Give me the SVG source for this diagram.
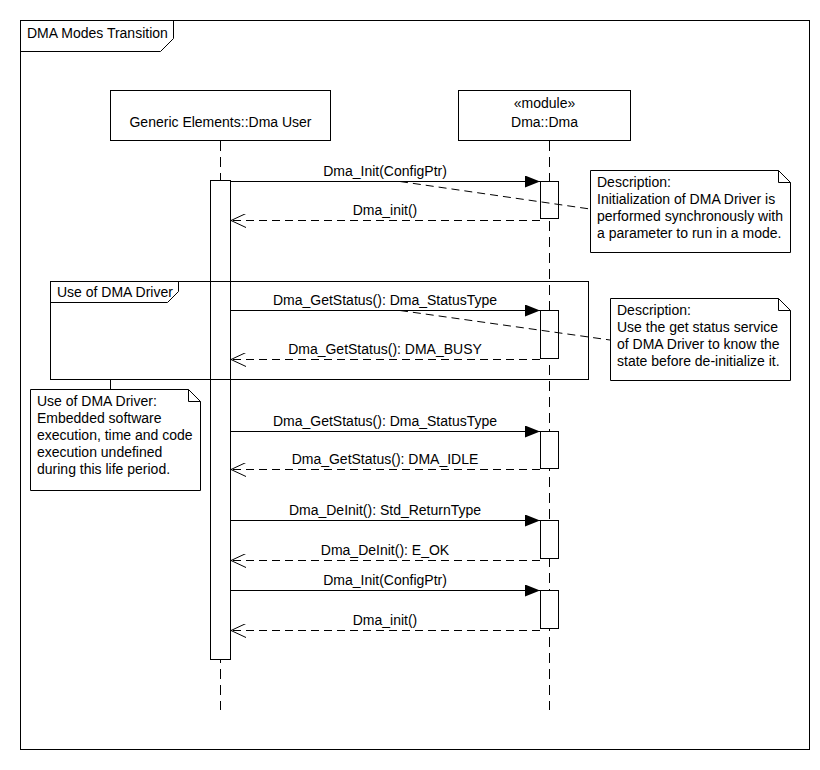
<svg xmlns="http://www.w3.org/2000/svg" width="820" height="770" viewBox="0 0 820 770">
<defs>
<style>
text{font-family:"Liberation Sans",Arial,sans-serif;font-size:14px;fill:#000}
.c{text-anchor:middle}
.box{fill:#fff;stroke:#000;stroke-width:1}
.ll{stroke:#000;stroke-width:1;stroke-dasharray:10,6;fill:none}
.msg{stroke:#000;stroke-width:1;fill:none}
.ret{stroke:#000;stroke-width:1;stroke-dasharray:8,5;fill:none}
.anc{stroke:#000;stroke-width:1;stroke-dasharray:8,5;fill:none}
</style>
<marker id="fill" markerWidth="16" markerHeight="12" refX="15" refY="6" orient="auto" markerUnits="userSpaceOnUse">
<path d="M0,0 L15,6 L0,12 Z" fill="#000"/>
</marker>
<marker id="open" markerWidth="16" markerHeight="14" refX="15" refY="7" orient="auto" markerUnits="userSpaceOnUse">
<path d="M0,0 L15,7 L0,14" fill="none" stroke="#000" stroke-width="1"/>
</marker>
</defs>
<rect width="820" height="770" fill="#fff"/>
<g id="frame">
<rect x="20.5" y="20.5" width="789" height="729" fill="none" stroke="#000"/>
<path d="M20.5,51.5 H160.5 L173.5,38.5 V20.5" fill="none" stroke="#000"/>
<text x="27" y="38">DMA Modes Transition</text>
</g>
<g id="user">
<rect class="box" x="110.5" y="90.5" width="220" height="50"/>
<text class="c" x="220.5" y="127">Generic Elements::Dma User</text>
<line class="ll" x1="220.5" y1="141" x2="220.5" y2="710"/>
<rect class="box" x="210.5" y="180.5" width="20" height="479"/>
</g>
<g id="dma">
<rect class="box" x="458.5" y="90.5" width="172" height="50"/>
<text class="c" x="544.5" y="108">«module»</text>
<text class="c" x="544.5" y="127">Dma::Dma</text>
<line class="ll" x1="549.5" y1="141" x2="549.5" y2="710"/>
<rect class="box" x="540.5" y="181.5" width="18" height="37"/>
<rect class="box" x="540.5" y="310.5" width="18" height="48"/>
<rect class="box" x="540.5" y="431.5" width="18" height="37"/>
<rect class="box" x="540.5" y="520.5" width="18" height="38"/>
<rect class="box" x="540.5" y="590.5" width="18" height="38"/>
</g>
<g id="fragment">
<rect x="50.5" y="281.5" width="538" height="98" fill="none" stroke="#000"/>
<path d="M50.5,302.5 H167.5 L178.5,291.5 V281.5" fill="none" stroke="#000"/>
<text x="57" y="297">Use of DMA Driver</text>
</g>
<g id="note1">
<path class="box" d="M590.5,170.5 H778.5 L790.5,182.5 V252.5 H590.5 Z"/>
<path d="M778.5,170.5 V182.5 H790.5" fill="none" stroke="#000"/>
<text x="597" y="187">Description:</text>
<text x="597" y="204">Initialization of DMA Driver is</text>
<text x="597" y="221">performed synchronously with</text>
<text x="597" y="238">a parameter to run in a mode.</text>
</g>
<g id="note2">
<path class="box" d="M610.5,298.5 H778.5 L790.5,310.5 V380.5 H610.5 Z"/>
<path d="M778.5,298.5 V310.5 H790.5" fill="none" stroke="#000"/>
<text x="617" y="315">Description:</text>
<text x="617" y="332">Use the get status service</text>
<text x="617" y="349">of DMA Driver to know the</text>
<text x="617" y="366">state before de-initialize it.</text>
</g>
<g id="note3">
<path class="box" d="M30.5,389.5 H188.5 L200.5,401.5 V490.5 H30.5 Z"/>
<path d="M188.5,389.5 V401.5 H200.5" fill="none" stroke="#000"/>
<text x="37" y="406">Use of DMA Driver:</text>
<text x="37" y="423">Embedded software</text>
<text x="37" y="440">execution, time and code</text>
<text x="37" y="457">execution undefined</text>
<text x="37" y="474">during this life period.</text>
</g>
<g id="connectors">
<line class="msg" x1="231" y1="181.5" x2="540" y2="181.5" marker-end="url(#fill)"/>
<text class="c" x="385" y="176">Dma_Init(ConfigPtr)</text>
<line class="ret" x1="540" y1="220.5" x2="231" y2="220.5" marker-end="url(#open)"/>
<text class="c" x="385" y="215">Dma_init()</text>
<line class="msg" x1="231" y1="310.5" x2="540" y2="310.5" marker-end="url(#fill)"/>
<text class="c" x="385" y="305">Dma_GetStatus(): Dma_StatusType</text>
<line class="ret" x1="540" y1="359.5" x2="231" y2="359.5" marker-end="url(#open)"/>
<text class="c" x="385" y="354">Dma_GetStatus(): DMA_BUSY</text>
<line class="msg" x1="231" y1="431.5" x2="540" y2="431.5" marker-end="url(#fill)"/>
<text class="c" x="385" y="426">Dma_GetStatus(): Dma_StatusType</text>
<line class="ret" x1="540" y1="469.5" x2="231" y2="469.5" marker-end="url(#open)"/>
<text class="c" x="385" y="464">Dma_GetStatus(): DMA_IDLE</text>
<line class="msg" x1="231" y1="520.5" x2="540" y2="520.5" marker-end="url(#fill)"/>
<text class="c" x="385" y="515">Dma_DeInit(): Std_ReturnType</text>
<line class="ret" x1="540" y1="560.5" x2="231" y2="560.5" marker-end="url(#open)"/>
<text class="c" x="385" y="555">Dma_DeInit(): E_OK</text>
<line class="msg" x1="231" y1="590.5" x2="540" y2="590.5" marker-end="url(#fill)"/>
<text class="c" x="385" y="585">Dma_Init(ConfigPtr)</text>
<line class="ret" x1="540" y1="630.5" x2="231" y2="630.5" marker-end="url(#open)"/>
<text class="c" x="385" y="625">Dma_init()</text>
<line class="anc" x1="400" y1="181.5" x2="590" y2="209"/>
<line class="anc" x1="400" y1="310.5" x2="610" y2="340"/>
<line class="msg" x1="110.5" y1="380" x2="110.5" y2="389"/>
</g>
</svg>
